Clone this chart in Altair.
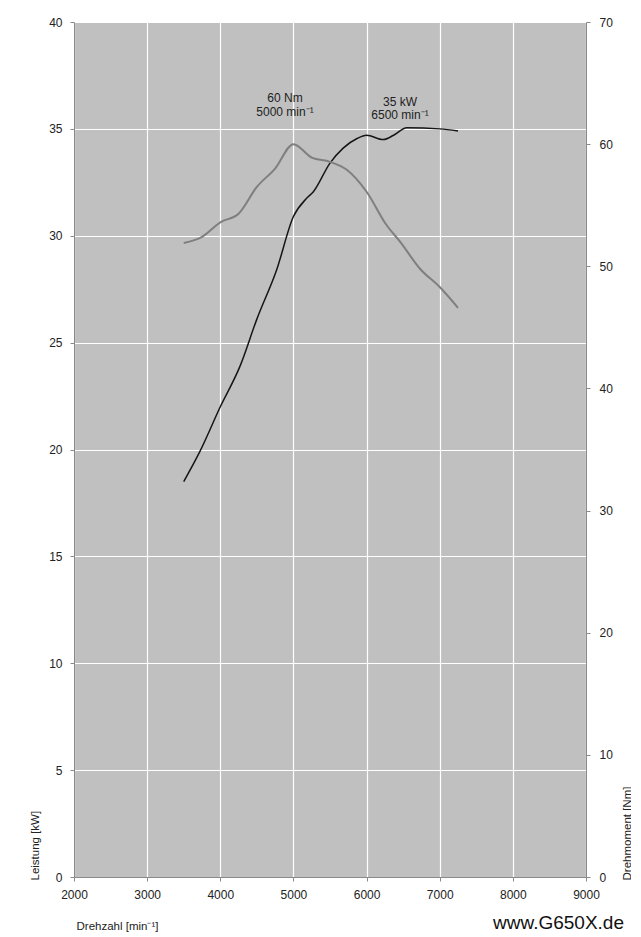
import altair as alt
import pandas as pd

# Power curve (kW) vs engine speed
power_rpm = [3500, 3720, 4000, 4270, 4500, 4770, 5000, 5180, 5270, 5500, 5680, 5870, 6000, 6230, 6370, 6550, 7000, 7250]
power_kw = [18.5, 19.9, 22.0, 23.9, 26.1, 28.4, 30.9, 31.75, 32.05, 33.4, 34.1, 34.55, 34.7, 34.5, 34.7, 35.05, 35.0, 34.9]

# Torque curve (Nm) vs engine speed
torque_rpm = [3500, 3750, 4000, 4250, 4500, 4750, 5000, 5250, 5500, 5730, 6000, 6270, 6460, 6730, 7000, 7250]
torque_nm = [51.9, 52.4, 53.6, 54.3, 56.5, 58.0, 60.0, 58.9, 58.55, 57.9, 56.1, 53.4, 52.0, 49.8, 48.3, 46.6]

x_ticks = [2000, 3000, 4000, 5000, 6000, 7000, 8000, 9000]
kw_ticks = [0, 5, 10, 15, 20, 25, 30, 35, 40]
nm_ticks = [0, 10, 20, 30, 40, 50, 60, 70]

ann_torque = ["60 Nm", "5000 min⁻¹"]
ann_power = ["35 kW", "6500 min⁻¹"]

FONT = "Liberation Sans"
LABEL_COLOR = "#222222"
AXIS_GRAY = "#8a8a8a"

power_df = pd.DataFrame({"rpm": power_rpm, "kw": power_kw})
torque_df = pd.DataFrame({"rpm": torque_rpm, "nm": torque_nm})

x_enc = alt.X(
    "rpm:Q",
    scale=alt.Scale(domain=[2000, 9000], nice=False),
    axis=alt.Axis(
        values=x_ticks, format="d", grid=True, gridColor="white", gridWidth=1.2,
        domainColor=AXIS_GRAY, tickColor=AXIS_GRAY, tickSize=4,
        labelFont=FONT, labelFontSize=12, labelColor=LABEL_COLOR, labelPadding=8,
        title="Drehzahl [min⁻¹]", titleFont=FONT, titleFontSize=11.5,
        titleFontWeight="normal", titleColor=LABEL_COLOR,
        titleX=2, titleY=52, titleAlign="left", titleBaseline="alphabetic",
        labelFlush=False,
    ),
)

power = alt.Chart(power_df).mark_line(
    color="#151515", strokeWidth=1.5, interpolate="monotone"
).encode(
    x=x_enc,
    y=alt.Y(
        "kw:Q",
        scale=alt.Scale(domain=[0, 40], nice=False),
        axis=alt.Axis(
            orient="left", values=kw_ticks, grid=True, gridColor="white", gridWidth=1.2,
            domainColor=AXIS_GRAY, tickColor=AXIS_GRAY, tickSize=4,
            labelFont=FONT, labelFontSize=12, labelColor=LABEL_COLOR, labelPadding=8,
            title="Leistung [kW]", titleFont=FONT, titleFontSize=11.5,
            titleFontWeight="normal", titleColor=LABEL_COLOR,
            titleAngle=270, titleX=-36, titleY=858, titleAlign="left",
            titleBaseline="alphabetic", labelFlush=False,
        ),
    ),
)

torque = alt.Chart(torque_df).mark_line(
    color="#7f7f7f", strokeWidth=2, interpolate="monotone"
).encode(
    x=x_enc,
    y=alt.Y(
        "nm:Q",
        scale=alt.Scale(domain=[0, 70], nice=False),
        axis=alt.Axis(
            orient="right", values=nm_ticks, grid=False,
            domainColor=AXIS_GRAY, tickColor=AXIS_GRAY, tickSize=4,
            labelFont=FONT, labelFontSize=12, labelColor=LABEL_COLOR, labelPadding=9,
            title="Drehmoment [Nm]", titleFont=FONT, titleFontSize=11.5,
            titleFontWeight="normal", titleColor=LABEL_COLOR,
            titleAngle=270, titleX=44, titleY=858, titleAlign="left",
            titleBaseline="alphabetic", labelFlush=False,
        ),
    ),
)


def text_layer(txt, px, py, size=12, align="center", baseline="middle", color=LABEL_COLOR):
    return alt.Chart(pd.DataFrame({"t": [txt]})).mark_text(
        font=FONT, fontSize=size, color=color, align=align, baseline=baseline
    ).encode(text="t:N", x=alt.value(px), y=alt.value(py))


a1a = text_layer(ann_torque[0], 211, 76)
a1b = text_layer(ann_torque[1], 211, 90)
a2a = text_layer(ann_power[0], 326, 80)
a2b = text_layer(ann_power[1], 326, 93)
site = text_layer("www.G650X.de", 550, 907, size=19, align="right",
                  baseline="alphabetic", color="#111111")

chart = alt.layer(power, torque, a1a, a1b, a2a, a2b, site).resolve_scale(
    y="independent"
).properties(
    width=512,
    height=855,
    autosize=alt.AutoSizeParams(type="none"),
    padding={"left": 66, "top": 14, "right": 45, "bottom": 56},
    background="white",
).configure_view(
    fill="#c0c0c0", stroke="transparent"
)

chart.save("out.html", embed_options={"renderer": "svg", "actions": False})
